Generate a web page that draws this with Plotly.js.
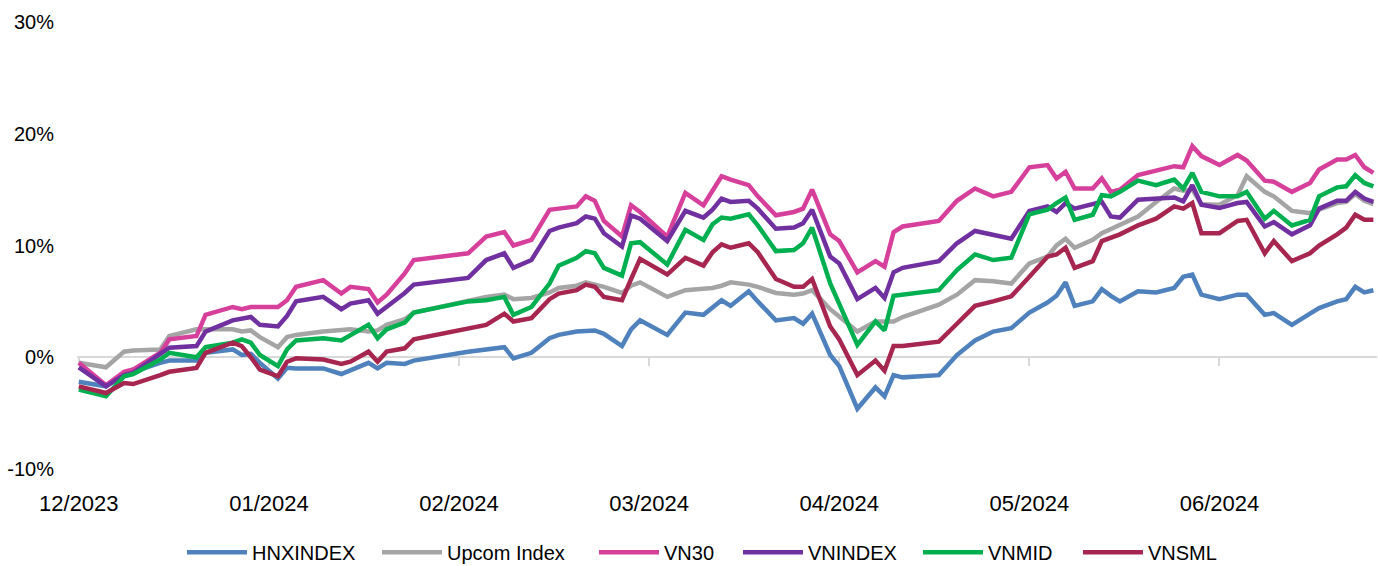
<!DOCTYPE html>
<html>
<head>
<meta charset="utf-8">
<script src="https://cdn.plot.ly/plotly-3.0.1.min.js"></script>
<style>html,body{margin:0;padding:0;background:#fff;}#chart{width:1378px;height:566px;}</style>
</head>
<body>
<div id="chart"></div>
<script>
// Trading-session index (x) for each sampled point
var sessions = [0,3,5,6,9,10,13,14,17,18,19,20,22,23,24,27,29,30,32,33,34,36,37,43,45,47,48,50,52,53,55,56,57,58,60,61,62,65,67,69,70,71,72,74,75,77,79,80,81,83,84,86,88,89,90,91,95,97,99,101,103,105,107,108,109,110,112,113,114,115,117,119,121,122,123,124,126,128,129,131,132,134,136,137,139,140,141,142,143];

// Monthly tick positions and labels
var tickSessions = [0,21,42,63,84,105,126];
var tickLabels = ["12/2023","01/2024","02/2024","03/2024","04/2024","05/2024","06/2024"];
var yTickValues = [-10,0,10,20,30];
var yTickLabels = ["-10%","0%","10%","20%","30%"];

// Series values (% change)
var hnxIndex = [-2.2,-2.6,-1.5,-1.3,-0.5,-0.3,-0.3,0.4,0.7,0.2,0.3,-0.5,-1.9,-0.95,-1.0,-1.0,-1.5,-1.2,-0.5,-1.0,-0.5,-0.6,-0.3,0.5,0.7,0.9,-0.1,0.4,1.7,2.0,2.3,2.4,2.4,2.1,1.0,2.5,3.3,2.0,4.0,3.8,4.5,5.1,4.6,5.9,5.0,3.3,3.5,3.0,3.9,0.2,-0.8,-4.6,-2.7,-3.5,-1.6,-1.8,-1.6,0.2,1.5,2.3,2.6,4.0,4.9,5.5,6.7,4.6,5.0,6.1,5.5,5.0,5.9,5.8,6.2,7.2,7.4,5.6,5.2,5.6,5.6,3.8,3.95,2.9,3.9,4.4,5.0,5.2,6.3,5.8,6.0];
var upcomIndex = [-0.5,-0.9,0.5,0.6,0.7,1.9,2.5,2.5,2.5,2.3,2.4,1.8,0.9,1.8,2.0,2.3,2.4,2.5,2.3,2.4,2.9,3.4,4.0,5.0,5.4,5.6,5.2,5.3,5.8,6.2,6.4,6.7,6.5,6.3,5.75,6.4,6.7,5.4,6.0,6.1,6.2,6.4,6.7,6.5,6.3,5.75,5.6,5.7,6.0,4.3,3.6,2.3,3.2,3.2,3.2,3.6,4.7,5.6,6.9,6.8,6.6,8.4,9.0,10.0,10.6,9.8,10.5,11.1,11.5,11.8,12.6,13.9,15.1,14.9,15.0,13.7,13.65,14.5,16.2,14.8,14.4,13.1,12.9,13.2,13.8,13.9,14.6,14.0,13.7];
var vn30 = [-0.5,-2.5,-1.3,-1.1,0.4,1.6,1.9,3.8,4.5,4.3,4.5,4.5,4.5,5.1,6.3,6.9,5.7,6.3,6.1,4.9,5.6,7.5,8.7,9.3,10.8,11.2,10.0,10.5,13.2,13.3,13.5,14.4,14.0,12.2,10.8,13.6,13.0,10.8,14.7,13.6,15.0,16.2,15.9,15.4,14.4,12.7,13.0,13.3,15.0,11.0,10.4,7.6,8.6,8.1,11.2,11.7,12.2,14.0,15.1,14.4,14.8,17.0,17.2,16.0,16.6,15.1,15.1,16.0,14.8,15.0,16.3,16.7,17.1,17.0,18.9,18.0,17.2,18.1,17.6,15.8,15.7,14.8,15.6,16.8,17.7,17.7,18.1,17.0,16.5];
var vnIndex = [-0.9,-2.6,-1.6,-1.4,0.3,0.85,1.0,2.3,3.3,3.4,3.6,2.9,2.75,3.7,5.0,5.4,4.3,4.8,5.1,3.9,4.5,5.75,6.5,7.1,8.7,9.3,8.0,8.7,11.3,11.6,12.0,12.6,12.4,11.1,9.9,12.7,12.4,10.4,13.1,12.5,13.2,14.2,13.9,14.0,13.3,11.5,11.6,12.0,13.2,9.0,8.4,5.2,6.2,5.3,7.6,8.0,8.6,10.2,11.3,10.9,10.6,13.1,13.5,13.0,13.8,13.3,13.65,13.9,12.6,12.5,14.1,14.2,14.3,13.95,15.4,13.65,13.35,13.8,13.9,11.7,12.1,11.0,11.8,13.3,14.0,14.0,14.8,14.2,13.9];
var vnMid = [-2.9,-3.5,-1.7,-1.5,-0.2,0.4,0.0,0.9,1.3,1.6,1.3,0.2,-0.8,0.7,1.5,1.7,1.5,2.0,2.9,1.7,2.5,3.1,4.0,5.0,5.1,5.4,3.8,4.5,6.6,8.2,8.9,9.5,9.3,8.0,7.3,10.2,10.3,8.3,11.4,10.5,11.9,12.5,12.4,12.8,11.8,9.5,9.6,10.2,11.6,6.6,4.8,1.1,3.2,2.4,5.5,5.6,6.0,7.8,9.2,8.7,8.9,12.8,13.2,13.8,14.3,12.3,12.75,14.5,14.4,14.8,15.8,15.4,15.9,15.1,16.5,14.8,14.4,14.4,14.8,12.4,13.1,11.8,12.3,14.4,15.2,15.3,16.3,15.6,15.3];
var vnSml = [-2.6,-3.2,-2.3,-2.4,-1.6,-1.3,-0.95,0.4,1.3,1.0,0.0,-1.1,-1.7,-0.4,-0.1,-0.2,-0.6,-0.4,0.5,-0.4,0.5,0.8,1.6,2.6,2.9,3.9,3.2,3.5,5.2,5.7,6.0,6.5,6.3,5.4,5.1,7.0,8.8,7.4,8.9,8.2,9.4,10.1,9.8,10.2,9.4,7.0,6.3,6.3,7.0,2.75,1.6,-1.6,-0.3,-1.2,1.0,1.0,1.4,3.0,4.6,5.0,5.45,7.2,9.0,9.2,9.8,8.0,8.6,10.4,10.7,11.0,11.8,12.4,13.5,13.3,13.8,11.1,11.1,12.2,12.3,9.3,10.4,8.6,9.3,10.0,11.0,11.6,12.75,12.3,12.3];

var seriesNames = ["HNXINDEX","Upcom Index","VN30","VNINDEX","VNMID","VNSML"];
var seriesValues = [hnxIndex, upcomIndex, vn30, vnIndex, vnMid, vnSml];
var seriesColors = ["#4f81bd","#a5a5a5","#d6409b","#7030a0","#00b050","#a6264f"];
var legendIds = ["legend","legend2","legend3","legend4","legend5","legend6"];
// left pixel of each legend entry (layout only)
var legendLeftPx = [182, 377, 594, 738, 918, 1078];

var font = "Liberation Sans, Arial, sans-serif";
var plotLeft = 77, plotWidth = 1300;

var traces = seriesNames.map(function(name, i){
  return {
    type: "scatter", mode: "lines", name: name,
    x: sessions, y: seriesValues[i],
    line: {color: seriesColors[i], width: 4.5},
    legend: legendIds[i],
    hoverinfo: "skip"
  };
});
// helper trace so the zero-axis (x2) gets drawn
traces.unshift({
  type: "scatter", mode: "lines", x: tickSessions, y: tickSessions.map(function(){return null;}),
  xaxis: "x2", yaxis: "y", showlegend: false, hoverinfo: "skip"
});

var layout = {
  width: 1378, height: 566,
  margin: {l: plotLeft, r: 1, t: 22, b: 97, autoexpand: false},
  paper_bgcolor: "#fff", plot_bgcolor: "#fff",
  showlegend: true,
  xaxis: {
    range: [-0.2, 143.4], anchor: "y", side: "bottom",
    tickmode: "array", tickvals: tickSessions, ticktext: tickLabels,
    ticks: "outside", ticklen: 15, tickcolor: "rgba(0,0,0,0)",
    showline: false, showgrid: false, zeroline: false, automargin: false,
    tickfont: {family: font, size: 22, color: "#000"}
  },
  xaxis2: {
    overlaying: "x", matches: "x", anchor: "free", position: 0.25,
    showline: true, linecolor: "#d9d9d9", linewidth: 2,
    ticks: "outside", ticklen: 8, tickwidth: 2, tickcolor: "#d9d9d9",
    tickmode: "array", tickvals: tickSessions, showticklabels: false,
    showgrid: false, zeroline: false, layer: "below traces"
  },
  yaxis: {
    range: [-10, 30], tickmode: "array", tickvals: yTickValues, ticktext: yTickLabels,
    showgrid: false, zeroline: false, showline: false, automargin: false,
    ticks: "outside", ticklen: 18, tickcolor: "rgba(0,0,0,0)",
    tickfont: {family: font, size: 20, color: "#000"}
  }
};

legendIds.forEach(function(id, i){
  layout[id] = {
    orientation: "h", x: (legendLeftPx[i] - plotLeft) / plotWidth, xanchor: "left",
    y: -0.186, yanchor: "middle",
    font: {family: font, size: 20, color: "#000"},
    itemwidth: 60, bgcolor: "rgba(0,0,0,0)"
  };
});

Plotly.newPlot("chart", traces, layout, {displayModeBar: false, staticPlot: true});
</script>
</body>
</html>
